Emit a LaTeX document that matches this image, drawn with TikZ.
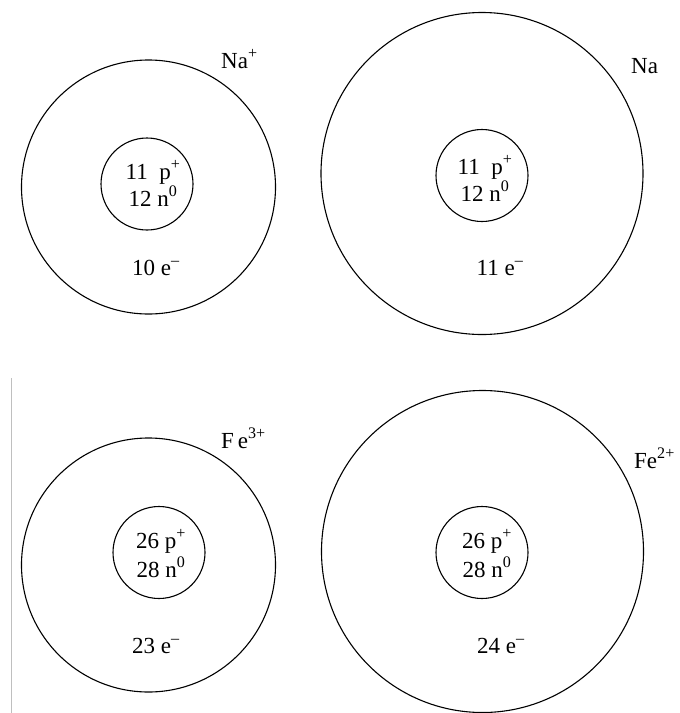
\documentclass[tikz,border=0pt]{standalone}
\usepackage{fontspec}
\setmainfont{Liberation Serif}
\tikzset{
  shell/.style={draw, circle, line width=1.1pt, inner sep=0pt},
  lbl/.style={anchor=base, inner sep=0pt, font=\fontsize{23}{27}\selectfont},
  lblw/.style={anchor=base west, inner sep=0pt, font=\fontsize{23}{27}\selectfont}
}
\newcommand{\upx}[1]{\textsuperscript{#1}}
\begin{document}
\begin{tikzpicture}[x=1pt,y=-1pt]
\useasboundingbox (0,0) rectangle (680,713);
\fill[white] (0,0) rectangle (680,713);
% gray vertical line
\coordinate (g1) at (11,378);
\coordinate (g2) at (11,713);
\draw[gray!50, line width=0.8pt] (g1) -- (g2);
% Na+
\node[shell, minimum size=254pt] (naio) at (148.5,187) {};
\node[shell, minimum size=92pt] (naii) at (147,184) {};
\node[lbl] (naip) at (153,179) {11\ \ p\upx{+}};
\node[lbl] (nain) at (153,206) {12\ n\upx{0}};
\node[lbl] (naie) at (156,275) {10 e\upx{–}};
\node[lblw] (nail) at (221,68) {Na\upx{+}};
% Na
\node[shell, minimum size=322pt] (nao) at (482,173.5) {};
\node[shell, minimum size=92pt] (nai) at (482,175.5) {};
\node[lbl] (nap) at (485,174) {11\ \ p\upx{+}};
\node[lbl] (nan) at (485,201) {12\ n\upx{0}};
\node[lbl] (nae) at (500,275) {11 e\upx{–}};
\node[lblw] (nal) at (631,73) {Na};
% Fe3+
\node[shell, minimum size=254pt] (f3o) at (148.5,565) {};
\node[shell, minimum size=92pt] (f3i) at (159,552.5) {};
\node[lbl] (f3p) at (161,548) {26 p\upx{+}};
\node[lbl] (f3n) at (161,577) {28 n\upx{0}};
\node[lbl] (f3e) at (156,653) {23 e\upx{–}};
\node[lblw] (f3l) at (221,448) {F\,e\upx{3+}};
% Fe2+
\node[shell, minimum size=322pt] (f2o) at (482.5,551.5) {};
\node[shell, minimum size=92pt] (f2i) at (482,552.5) {};
\node[lbl] (f2p) at (487,548) {26 p\upx{+}};
\node[lbl] (f2n) at (487,577) {28 n\upx{0}};
\node[lbl] (f2e) at (501,653) {24 e\upx{–}};
\node[lblw] (f2l) at (634,468) {Fe\upx{2+}};
\end{tikzpicture}
\end{document}
